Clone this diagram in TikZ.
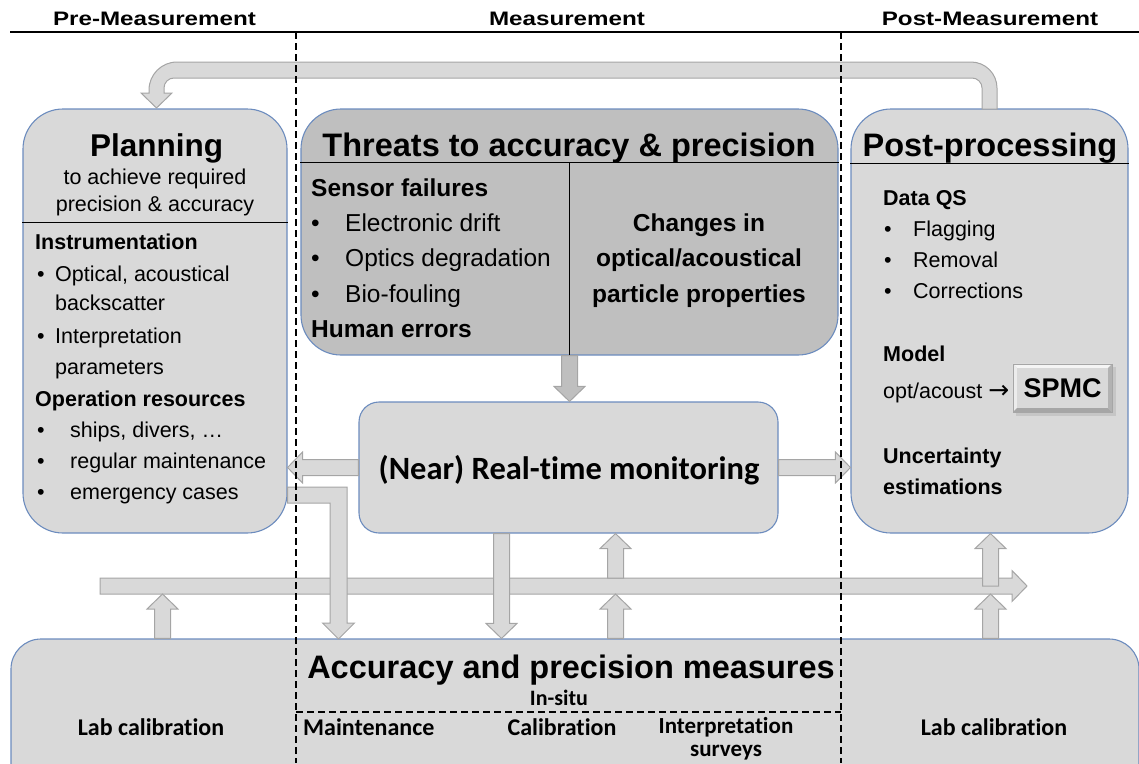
\documentclass[tikz,border=0pt]{standalone}
\usepackage{fontspec}
\usepackage{graphicx}
\setmainfont{Liberation Sans}
\newfontfamily\calib[Ligatures=NoCommon]{Carlito}
\newfontfamily\djv{DejaVu Sans}
\usetikzlibrary{calc}
\definecolor{boxfill}{HTML}{D9D9D9}
\definecolor{thrfill}{HTML}{BFBFBF}
\definecolor{boxline}{HTML}{6C8CBE}
\definecolor{arrline}{HTML}{A5A5A5}
\newcommand\fsz[1]{\fontsize{#1}{#1}\selectfont}
\newcommand\blockarr[3][]{%
  \path[barrow,#1] let \p1=#2, \p2=#3, \p3=($(\p2)!15pt!(\p1)$) in
    ($(\p1)!8pt!90:(\p2)$) -- ($(\p3)!8pt!-90:(\p1)$) -- ($(\p3)!15.5pt!-90:(\p1)$)
    -- (\p2) -- ($(\p3)!15.5pt!90:(\p1)$) -- ($(\p3)!8pt!90:(\p1)$)
    -- ($(\p1)!8pt!-90:(\p2)$) -- cycle;}
\begin{document}
\begin{tikzpicture}[x=1pt,y=-1pt,
  rbox/.style={draw=boxline,line width=1.1pt,fill=boxfill,rounded corners=#1,inner sep=0pt},
  barrow/.style={draw=arrline,fill=boxfill,line width=1pt},
  t/.style={inner sep=0pt,anchor=base west},
  tc/.style={inner sep=0pt,anchor=base},
  hdr/.style={tc,font=\bfseries\fsz{19.5}},
  dline/.style={line width=1.3pt,dash pattern=on 7pt off 4pt},
  ttl/.style={tc,font=\bfseries\fsz{32.5}},
  pb/.style={t,font=\fsz{21.5}},
  pbb/.style={t,font=\bfseries\fsz{21.5}},
  tb/.style={t,font=\fsz{24.5}},
  tbb/.style={t,font=\bfseries\fsz{24.5}},
  cal/.style={tc,font=\calib\bfseries\fsz{24}},
  ]
\path[use as bounding box] (0,0) rectangle (1139,763);
\clip (0,0) rectangle (1139,763);

% headers
\node[hdr] (hpre) at (154.5,25) {\scalebox{1.24}[1]{Pre-Measurement}};
\node[hdr] (hmea) at (567,25) {\scalebox{1.24}[1]{Measurement}};
\node[hdr] (hpost) at (990,25) {\scalebox{1.24}[1]{Post-Measurement}};
\coordinate (hl0) at (10,32); \coordinate (hl1) at (1139,32);
\draw[line width=1.5pt] (hl0) -- (hl1);

% boxes
\node[rbox=40pt,minimum width=264pt,minimum height=424pt] (plan) at (155,321) {};
\node[rbox=40pt,fill=thrfill,minimum width=537pt,minimum height=246pt] (thr) at (569.5,232) {};
\node[rbox=40pt,minimum width=277pt,minimum height=424pt] (post) at (989.5,321) {};
\node[rbox=20pt,minimum width=419pt,minimum height=131pt] (mon) at (568.5,467.5) {};
\node[rbox=30pt,minimum width=1128pt,minimum height=160pt] (bot) at (575,719) {};

% dividers
\draw[line width=1pt] ($(plan.north west)+(0,114)$) -- ($(plan.north east)+(0,114)$);
\draw[line width=1pt] ($(thr.north west)+(0,54)$) -- ($(thr.north east)+(0,54)$);
\draw[line width=1pt] ($(thr.north)+(-0.5,54)$) -- ($(thr.south)+(-0.5,0)$);
\draw[line width=1pt] ($(post.north west)+(0,55)$) -- ($(post.north east)+(0,55)$);

% block arrows
\blockarr[fill=thrfill]{(thr.south)}{(thr.south |- mon.north)}
\blockarr{(mon.west)}{(mon.west -| plan.east)}
\blockarr{(mon.east)}{(mon.east -| post.west)}
\coordinate (lgS) at (100,586); \coordinate (lgE) at (1027,586);
\blockarr{(lgS)}{(lgE)}
\coordinate (xa) at (501.5,0);
\blockarr{(xa |- mon.south)}{(xa |- bot.north)}
\coordinate (xb) at (615.5,578);
\blockarr{(xb)}{(xb |- mon.south)}
\coordinate (xb2) at (615.5,594);
\blockarr{(xb2 |- bot.north)}{(xb2)}
\coordinate (xc) at (162.5,594);
\blockarr{(xc |- bot.north)}{(xc)}
\coordinate (xd) at (990.5,594);
\blockarr{(xd |- bot.north)}{(xd)}
\coordinate (xe) at (990.5,586);
\blockarr{(xe)}{(xe |- post.south)}
% bent arrow planning -> bottom
\coordinate (y487) at (0,487); \coordinate (y503) at (0,503);
\path[barrow] (plan.east |- y487) -- (347,487) -- (347,623) -- (354.5,623)
  -- (338.5,639) -- (322.5,623) -- (330,623) -- (330,503) -- (plan.east |- y503) -- cycle;
% feedback arrow post -> planning
\path[barrow] (997,109) -- (997,88) arc[start angle=0,end angle=-90,radius=26]
  -- (177,62) arc[start angle=-90,end angle=-180,radius=28]
  -- (149,93) -- (141,93) -- (156.5,108) -- (172,93) -- (164,93) -- (164,88)
  arc[start angle=180,end angle=270,radius=10] -- (972,78)
  arc[start angle=-90,end angle=0,radius=10] -- (982,109) -- cycle;

% Planning text
\node[tc,font=\bfseries\fsz{31.5}] (tplan) at (156.5,156) {Planning};
\node[tc,font=\fsz{21.5}] (tp1) at (155,184.5) {to achieve required};
\node[tc,font=\fsz{21.5}] (tp2) at (155,211.5) {precision \& accuracy};
\node[pbb] (tp3) at (35,249) {Instrumentation};
\node[pb] (bp1) at (37,281) {•};
\node[pb] (tp4) at (55,281) {Optical, acoustical};
\node[pb] (tp5) at (55,310.5) {backscatter};
\node[pb] (bp2) at (37,343) {•};
\node[pb] (tp6) at (55,343) {Interpretation};
\node[pb] (tp7) at (55,374) {parameters};
\node[pbb] (tp8) at (35,406) {Operation resources};
\node[pb] (bp3) at (37,437) {•};
\node[pb] (tp9) at (70,437) {ships, divers, …};
\node[pb] (bp4) at (37,468) {•};
\node[pb] (tp10) at (70,468) {regular maintenance};
\node[pb] (bp5) at (37,499.5) {•};
\node[pb] (tp11) at (70,499.5) {emergency cases};

% Threats text
\node[ttl] (tthr) at (569,156) {Threats to accuracy \& precision};
\node[tbb] (th1) at (311,196.5) {Sensor failures};
\node[tb] (bt1) at (311,231) {•};
\node[tb] (th2) at (345,231) {Electronic drift};
\node[tb] (bt2) at (311,266.5) {•};
\node[tb] (th3) at (345,266.5) {Optics degradation};
\node[tb] (bt3) at (311,302) {•};
\node[tb] (th4) at (345,302) {Bio-fouling};
\node[tbb] (th5) at (311,337.5) {Human errors};
\node[tc,font=\bfseries\fsz{24.5}] (th6) at (699,231) {Changes in};
\node[tc,font=\bfseries\fsz{24.5}] (th7) at (699,266.5) {optical/acoustical};
\node[tc,font=\bfseries\fsz{24.5}] (th8) at (699,302) {particle properties};

% Post-processing text
\node[ttl] (tpost) at (990,156) {Post-processing};
\node[pbb] (tq1) at (883,205) {Data QS};
\node[pb] (bq1) at (884,236.5) {•};
\node[pb] (tq2) at (913,236.5) {Flagging};
\node[pb] (bq2) at (884,267.5) {•};
\node[pb] (tq3) at (913,267.5) {Removal};
\node[pb] (bq3) at (884,298.5) {•};
\node[pb] (tq4) at (913,298.5) {Corrections};
\node[pbb] (tq5) at (883,361.5) {Model};
\node[pb] (tq6) at (883,398.5) {opt/acoust {\djv\fsz{25}→}};
\node[pbb] (tq7) at (883,463) {Uncertainty};
\node[pbb] (tq8) at (883,494) {estimations};
% SPMC button
\fill[gray!45] (1016,367) rectangle (1116,416);
\node[fill=boxfill,minimum width=99pt,minimum height=48pt,inner sep=0pt,
  font=\bfseries\fsz{27}] (spmc) at (1062.5,388) {SPMC};
\fill[gray!8] (spmc.north west) -- (spmc.north east) -- ($(spmc.north east)+(-4,4)$)
  -- ($(spmc.north west)+(4,4)$) -- cycle;
\fill[gray!15] (spmc.north west) -- ($(spmc.north west)+(4,4)$) -- ($(spmc.south west)+(4,-4)$)
  -- (spmc.south west) -- cycle;
\fill[gray!70] (spmc.south west) -- (spmc.south east) -- ($(spmc.south east)+(-4,-4)$)
  -- ($(spmc.south west)+(4,-4)$) -- cycle;
\fill[gray!60] (spmc.north east) -- (spmc.south east) -- ($(spmc.south east)+(-4,-4)$)
  -- ($(spmc.north east)+(-4,4)$) -- cycle;
\draw[gray!70,line width=0.6pt] (spmc.north west) rectangle (spmc.south east);

% monitoring text
\node[tc,font=\calib\bfseries\fsz{32.5}] (tmon) at (569,479) {(Near) Real-time monitoring};

% bottom text
\node[ttl] (tbot) at (571,678) {Accuracy and precision measures};
\node[tc,font=\calib\bfseries\fsz{22}] (tins) at (559,705) {In-situ};
\node[cal] (lab1) at (151,735) {Lab calibration};
\node[cal,anchor=base west] (mnt) at (303,735) {Maintenance};
\node[cal] (clb) at (562,735) {Calibration};
\node[cal,font=\calib\bfseries\fsz{23}] (int1) at (726,733) {Interpretation};
\node[cal,font=\calib\bfseries\fsz{23}] (int2) at (726,756) {surveys};
\node[cal] (lab2) at (994,735) {Lab calibration};

% dashed separators
\coordinate (d1t) at (296,32); \coordinate (d1b) at (296,763);
\coordinate (d2t) at (841,32); \coordinate (d2b) at (841,763);
\coordinate (is1) at (296,712); \coordinate (is2) at (841,712);
\draw[dline] (d1t) -- (d1b);
\draw[dline] (d2t) -- (d2b);
\draw[dline] (is1) -- (is2);
\end{tikzpicture}
\end{document}
